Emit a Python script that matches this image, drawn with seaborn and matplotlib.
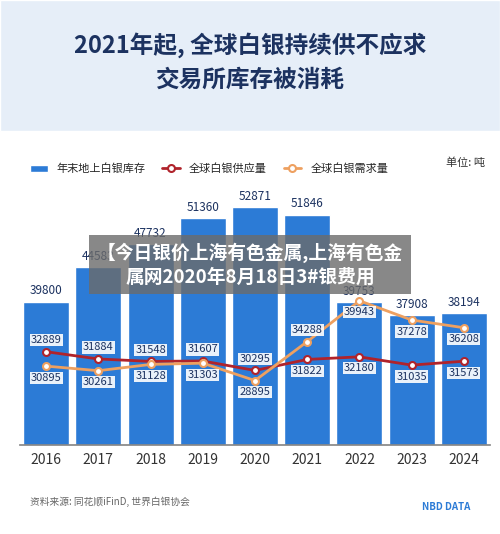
import matplotlib.pyplot as plt
import seaborn as sns
import pandas as pd
from matplotlib.patches import Rectangle

years = ["2016", "2017", "2018", "2019", "2020", "2021", "2022", "2023", "2024"]
inventory = [39800, 44583, 47732, 51360, 52871, 51846, 39753, 37908, 38194]
supply = [32889, 31884, 31548, 31607, 30295, 31822, 32180, 31035, 31573]
demand = [30895, 30261, 31128, 31303, 28895, 34288, 39943, 37278, 36208]
# label placement: +1 above the marker, -1 below
supply_side = [1, 1, 1, 1, 1, -1, -1, -1, -1]
demand_side = [-1, -1, -1, -1, -1, 1, -1, -1, -1]

sns.set_theme(style="white")
plt.rcParams["font.family"] = ["Noto Sans CJK SC", "DejaVu Sans"]

BLUE = "#2c7bd6"
RED = "#b0232b"
ORANGE = "#eea060"
NAVY = "#1c3260"

df = pd.DataFrame({"year": years, "inv": inventory, "sup": supply, "dem": demand})

fig = plt.figure(figsize=(5, 5.34), dpi=100)
fig.patch.set_facecolor("white")
fig.patches.append(Rectangle((0, 0.755), 1, 0.245, transform=fig.transFigure,
                             facecolor="#e6eef8", zorder=0))
fig.text(0.5, 0.915, "2021年起, 全球白银持续供不应求", ha="center", va="center",
         fontsize=17, fontweight="bold", color=NAVY)
fig.text(0.5, 0.85, "交易所库存被消耗", ha="center", va="center",
         fontsize=17, fontweight="bold", color=NAVY)

ax = fig.add_axes([0.04, 0.167, 0.94, 0.487])
sns.barplot(data=df, x="year", y="inv", color=BLUE, width=0.88, ax=ax,
            saturation=1, label="年末地上白银库存")
x = range(len(years))
ax.plot(x, supply, color=RED, lw=2, marker="o", ms=5, mfc="white", mec=RED, mew=1.5,
        label="全球白银供应量")
ax.plot(x, demand, color=ORANGE, lw=2, marker="o", ms=5, mfc="white", mec=ORANGE, mew=1.5,
        label="全球白银需求量")
ax.set_ylim(20000, 56000)
ax.set_xlim(-0.5, len(years) - 0.5)
ax.set_yticks([])
ax.set_xlabel("")
ax.set_ylabel("")
for s in ["left", "right", "top"]:
    ax.spines[s].set_visible(False)
ax.spines["bottom"].set_color("#888888")
ax.tick_params(axis="x", length=0, labelsize=10, colors="#333333", pad=6)

box = dict(boxstyle="square,pad=0.1", facecolor="white", edgecolor="none", alpha=0.9)
for i in x:
    ax.text(i, inventory[i] + 600, str(inventory[i]), ha="center", va="bottom",
            fontsize=8.5, color=NAVY)
    for val, side in ((supply[i], supply_side[i]), (demand[i], demand_side[i])):
        ax.text(i, val + side * 900, str(val), ha="center",
                va="bottom" if side > 0 else "top", fontsize=8, color=NAVY, bbox=box)

h, l = ax.get_legend_handles_labels()
order = [l.index("年末地上白银库存"), l.index("全球白银供应量"), l.index("全球白银需求量")]
ax.legend([h[k] for k in order], [l[k] for k in order], loc="upper left",
          bbox_to_anchor=(0.0, 1.12), ncol=3, frameon=False,
          fontsize=8, handlelength=1.6, columnspacing=1.5)
ax.text(0.99, 1.085, "单位: 吨", transform=ax.transAxes, ha="right", va="center",
        fontsize=8, color="#333333")

fig.text(0.06, 0.055, "资料来源: 同花顺iFinD, 世界白银协会", fontsize=7, color="#666666")
fig.text(0.94, 0.045, "NBD DATA", ha="right", fontsize=7, fontweight="bold", color=BLUE)

fig.text(0.5, 0.505, "【今日银价上海有色金属,上海有色金\n属网2020年8月18日3#银费用", ha="center",
         va="center", fontsize=13.5, fontweight="bold", color="white", linespacing=1.3,
         bbox=dict(boxstyle="square,pad=0.4", facecolor="#6b6b6b", edgecolor="none",
                   alpha=0.8))

fig.savefig("out.png", dpi=100)
